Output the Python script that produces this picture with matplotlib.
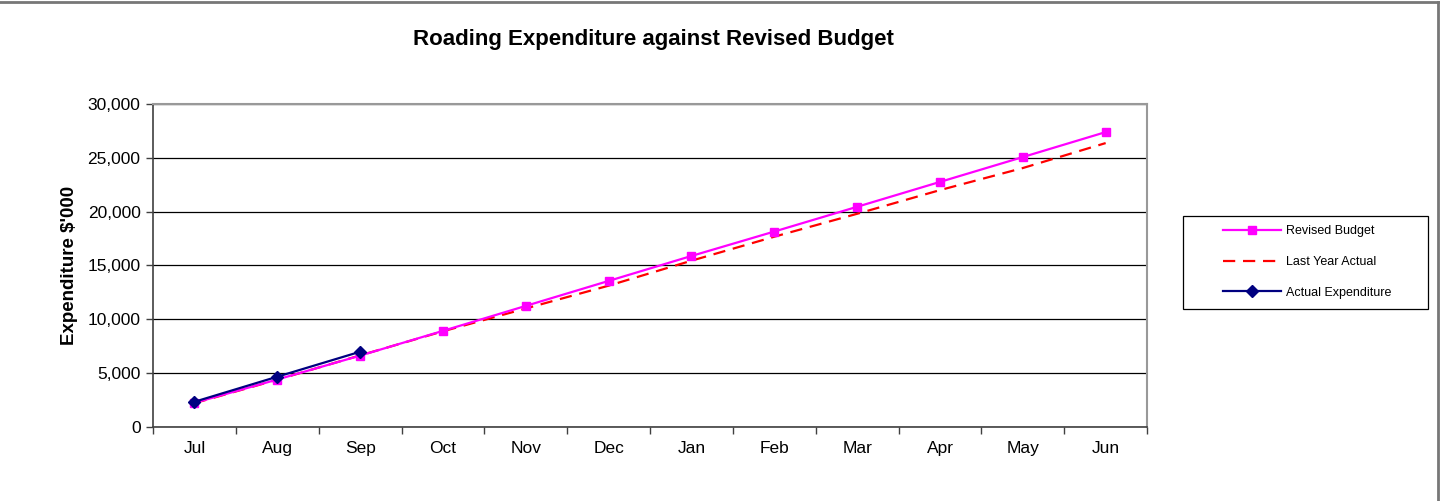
import matplotlib.pyplot as plt
from matplotlib.lines import Line2D
from matplotlib.patches import Rectangle
from matplotlib.ticker import FuncFormatter

plt.rcParams['font.family'] = ['Liberation Sans', 'DejaVu Sans']

months = ['Jul', 'Aug', 'Sep', 'Oct', 'Nov', 'Dec',
          'Jan', 'Feb', 'Mar', 'Apr', 'May', 'Jun']
revised_budget = [2230, 4400, 6620, 8920, 11240, 13560,
                  15880, 18150, 20450, 22760, 25070, 27390]
last_year_actual = [2200, 4380, 6640, 8880, 11000, 13120,
                    15440, 17670, 19800, 22000, 24050, 26370]
actual_expenditure = [2330, 4660, 6980]


def main():
    W, H = 1452, 501
    fig = plt.figure(figsize=(W / 100, H / 100), dpi=100)
    ax = fig.add_axes([0.1054, 0.148, 0.6846, 0.6444])

    x = list(range(len(months)))
    xa = x[:len(actual_expenditure)]

    ax.plot(x, last_year_actual, color='#ff0000', lw=1.6, ls=(0, (5.5, 3.5)),
            label='Last Year Actual', zorder=3)
    ax.plot(x, revised_budget, color='#ff00ff', lw=1.6, marker='s', ms=6,
            label='Revised Budget', zorder=4)
    ax.plot(xa, actual_expenditure, color='#000080', lw=1.6, marker='D', ms=6,
            label='Actual Expenditure', zorder=5)

    ax.set_xlim(-0.5, 11.5)
    ax.set_ylim(0, 30000)
    ax.set_yticks(range(0, 30001, 5000))
    ax.yaxis.set_major_formatter(FuncFormatter(lambda v, p: f'{int(v):,}'))
    ax.set_xticks(x)
    ax.set_xticklabels(months)
    ax.set_xticks([i - 0.5 for i in range(13)], minor=True)
    ax.tick_params(axis='x', which='major', length=0, pad=10, labelsize=12.5)
    ax.tick_params(axis='x', which='minor', length=5, width=1, color='#404040')
    ax.tick_params(axis='y', length=5, width=1, color='#404040', labelsize=12.5, pad=4)

    ax.grid(axis='y', color='#000000', lw=0.9)
    ax.set_axisbelow(True)
    for side in ['top', 'right']:
        ax.spines[side].set_color('#999999')
        ax.spines[side].set_linewidth(1.5)
    for side in ['left', 'bottom']:
        ax.spines[side].set_color('#404040')
        ax.spines[side].set_linewidth(1.2)

    ax.set_ylabel("Expenditure $'000", fontsize=13.5, fontweight='bold', labelpad=7)
    fig.text(653 / W, 1 - 40 / H, 'Roading Expenditure against Revised Budget',
             ha='center', va='center', fontsize=16, fontweight='bold')

    # legend: frame drawn separately so its size matches the original box
    fig.add_artist(Rectangle((1183 / W, 1 - 309 / H), 245 / W, 93 / H,
                             transform=fig.transFigure, fill=False,
                             edgecolor='black', lw=0.9))
    h, l = ax.get_legend_handles_labels()
    order = [1, 0, 2]
    fig.legend([h[i] for i in order], [l[i] for i in order],
               loc='center left', bbox_to_anchor=(1223 / W, 1 - 262 / H),
               frameon=False, fontsize=9, borderpad=0, borderaxespad=0,
               handlelength=4.6, handletextpad=0.4, labelspacing=1.5)

    # outer chart border
    fig.add_artist(Line2D([0, 0.9904], [0.996, 0.996], color='#777777', lw=2,
                          transform=fig.transFigure))
    fig.add_artist(Line2D([0.9904, 0.9904], [0, 0.996], color='#777777', lw=2,
                          transform=fig.transFigure))

    fig.savefig('out.png', dpi=100)


if __name__ == "__main__":
    main()
